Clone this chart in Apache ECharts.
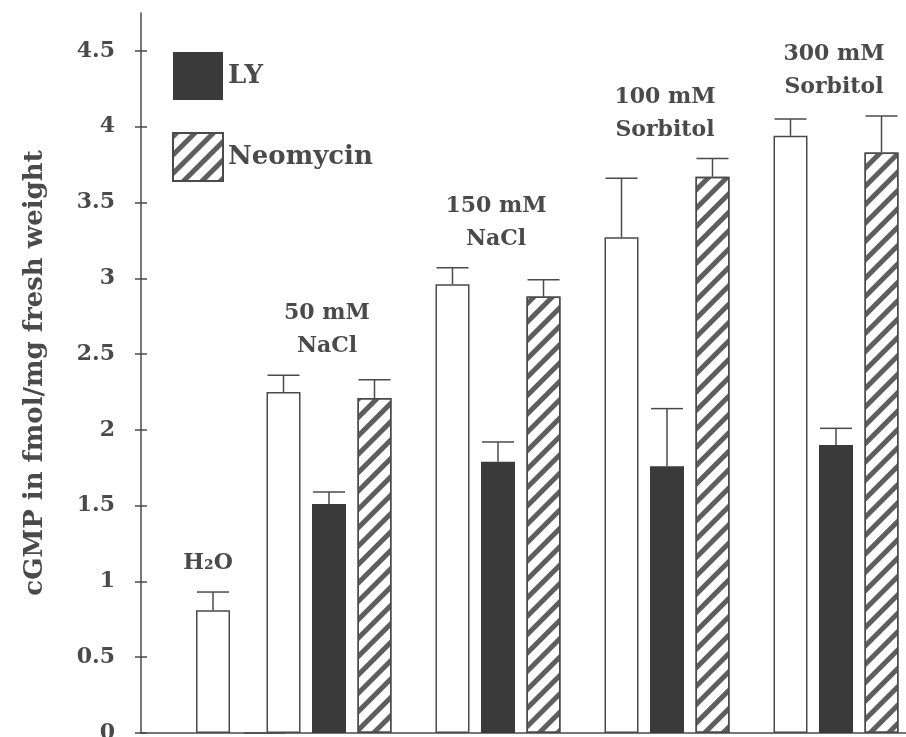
<!DOCTYPE html>
<html><head><meta charset="utf-8">
<script src="https://cdn.jsdelivr.net/npm/echarts@6/dist/echarts.min.js"></script>
<style>html,body{margin:0;padding:0;background:#fff}#c{width:906px;height:737px}</style>
</head><body><div id="c"></div>
<script>
// ---- data ----
const baseCategory = ['H₂O'];
const baseValue = [0.81];
const baseErr = [0.12];
const categories = ['50 mM NaCl', '150 mM NaCl', '100 mM Sorbitol', '300 mM Sorbitol'];
const groupLabels = ['50 mM\nNaCl', '150 mM\nNaCl', '100 mM\nSorbitol', '300 mM\nSorbitol'];
const controlValues = [2.25, 2.96, 3.27, 3.94];
const controlErr = [0.11, 0.11, 0.39, 0.11];
const lyValues = [1.51, 1.79, 1.76, 1.90];
const lyErr = [0.08, 0.13, 0.38, 0.11];
const neoValues = [2.21, 2.88, 3.67, 3.83];
const neoErr = [0.12, 0.11, 0.12, 0.24];
const yTicks = [0, 0.5, 1, 1.5, 2, 2.5, 3, 3.5, 4, 4.5];
const yTitle = 'cGMP in fmol/mg fresh weight';

// ---- style ----
const INK = '#4a4a4a';
const FONT = '"DejaVu Serif", "Liberation Serif", serif';
const BAR_W = 34;
const BAR_GAP = 11.5;

const chart = echarts.init(document.getElementById('c'), null, {renderer: 'canvas'});

function errSeries(values, errs, slot, xi, yi) {
  return {
    type: 'custom', xAxisIndex: xi, yAxisIndex: yi, z: 5, silent: true,
    data: values.map((v, i) => [i, v, errs[i]]),
    renderItem: function (params, api) {
      const x = api.value(0), v = api.value(1), e = api.value(2);
      const p0 = api.coord([x, v]);
      const p1 = api.coord([x, v + e]);
      const cx = p0[0] + slot * (BAR_W + BAR_GAP);
      const half = BAR_W / 2 - 1;
      const st = {stroke: INK, lineWidth: 1.5};
      return {type: 'group', children: [
        {type: 'line', shape: {x1: cx, y1: p0[1], x2: cx, y2: p1[1]}, style: st},
        {type: 'line', shape: {x1: cx - half, y1: p1[1], x2: cx + half, y2: p1[1]}, style: st}
      ]};
    }
  };
}

function labelSeries(labels, tops, xi, yi, dx) {
  return {
    type: 'custom', xAxisIndex: xi, yAxisIndex: yi, z: 6, silent: true,
    data: tops.map((t, i) => [i, t]),
    renderItem: function (params, api) {
      const p = api.coord([api.value(0), api.value(1)]);
      return {type: 'text', x: p[0] + (dx || 0), y: p[1] - 12, style: {
        text: labels[params.dataIndex], align: 'center', verticalAlign: 'bottom',
        font: 'bold 22px ' + FONT, fill: INK, lineHeight: 33
      }};
    }
  };
}

const groupTops = categories.map((c, i) => Math.max(
  controlValues[i] + controlErr[i], lyValues[i] + lyErr[i], neoValues[i] + neoErr[i]));
const baseTops = baseValue.map((v, i) => v + baseErr[i]);

const barBorder = {borderColor: INK, borderWidth: 1.5};
const neoDecal = {symbol: 'rect', symbolSize: 1, dashArrayX: [1, 0], dashArrayY: [5, 8],
  rotation: -Math.PI / 4, color: '#5e5e5e'};
const gap = (BAR_GAP / BAR_W * 100) + '%';

const option = {
  backgroundColor: '#fff',
  animation: false,
  legend: {
    data: ['LY', 'Neomycin'], orient: 'vertical', left: 172, top: 52, padding: 0,
    icon: 'rect', itemWidth: 50, itemHeight: 48, itemGap: 32,
    textStyle: {fontFamily: FONT, fontWeight: 'bold', fontSize: 26, color: INK}
  },
  grid: [
    {left: 141, width: 144, top: 13, bottom: 4, outerBoundsMode: 'none', containLabel: false},
    {left: 244.5, width: 676, top: 13, bottom: 4, outerBoundsMode: 'none', containLabel: false}
  ],
  xAxis: [
    {gridIndex: 0, type: 'category', data: baseCategory,
     axisLine: {lineStyle: {color: INK, width: 1.5}}, axisTick: {show: false}, axisLabel: {show: false}},
    {gridIndex: 1, type: 'category', data: categories,
     axisLine: {lineStyle: {color: INK, width: 1.5}}, axisTick: {show: false}, axisLabel: {show: false}}
  ],
  yAxis: [
    {gridIndex: 0, type: 'value', position: 'left', min: 0, max: 4.75, interval: 0.5,
     axisLine: {show: true, lineStyle: {color: INK, width: 1.5}},
     axisTick: {show: true, length: 6, customValues: yTicks, lineStyle: {color: INK, width: 1.5}},
     axisLabel: {customValues: yTicks, margin: 26, fontFamily: FONT, fontWeight: 'bold', fontSize: 22, color: INK},
     splitLine: {show: false},
     name: yTitle, nameLocation: 'middle', nameGap: 93, nameRotate: 90,
     nameTextStyle: {fontFamily: FONT, fontWeight: 'bold', fontSize: 26, color: INK}},
    {gridIndex: 0, type: 'value', position: 'left', offset: 0, min: 0, max: 4.75, interval: 0.5,
     axisLine: {show: true, lineStyle: {color: 'rgba(0,0,0,0)', width: 0}},
     splitLine: {show: false}, axisLabel: {show: false},
     axisTick: {show: true, inside: true, length: 6, customValues: yTicks, lineStyle: {color: INK, width: 1.5}}},
    {gridIndex: 1, type: 'value', min: 0, max: 4.75, show: false, splitLine: {show: false}}
  ],
  series: [
    {name: 'H₂O', type: 'bar', xAxisIndex: 0, yAxisIndex: 0, data: baseValue, barWidth: BAR_W,
     itemStyle: Object.assign({color: '#fff'}, barBorder)},
    {name: 'Control', type: 'bar', xAxisIndex: 1, yAxisIndex: 2, data: controlValues,
     barWidth: BAR_W, barGap: gap, itemStyle: Object.assign({color: '#fff'}, barBorder)},
    {name: 'LY', type: 'bar', xAxisIndex: 1, yAxisIndex: 2, data: lyValues,
     barWidth: BAR_W, barGap: gap, itemStyle: {color: '#3a3a3a'}},
    {name: 'Neomycin', type: 'bar', xAxisIndex: 1, yAxisIndex: 2, data: neoValues,
     barWidth: BAR_W, barGap: gap, itemStyle: Object.assign({color: '#fff', decal: neoDecal}, barBorder)},
    errSeries(baseValue, baseErr, 0, 0, 0),
    errSeries(controlValues, controlErr, -1, 1, 2),
    errSeries(lyValues, lyErr, 0, 1, 2),
    errSeries(neoValues, neoErr, 1, 1, 2),
    labelSeries(baseCategory, baseTops, 0, 0, -5),
    labelSeries(groupLabels, groupTops, 1, 2, -2)
  ]
};
chart.setOption(option);
</script>
</body></html>
